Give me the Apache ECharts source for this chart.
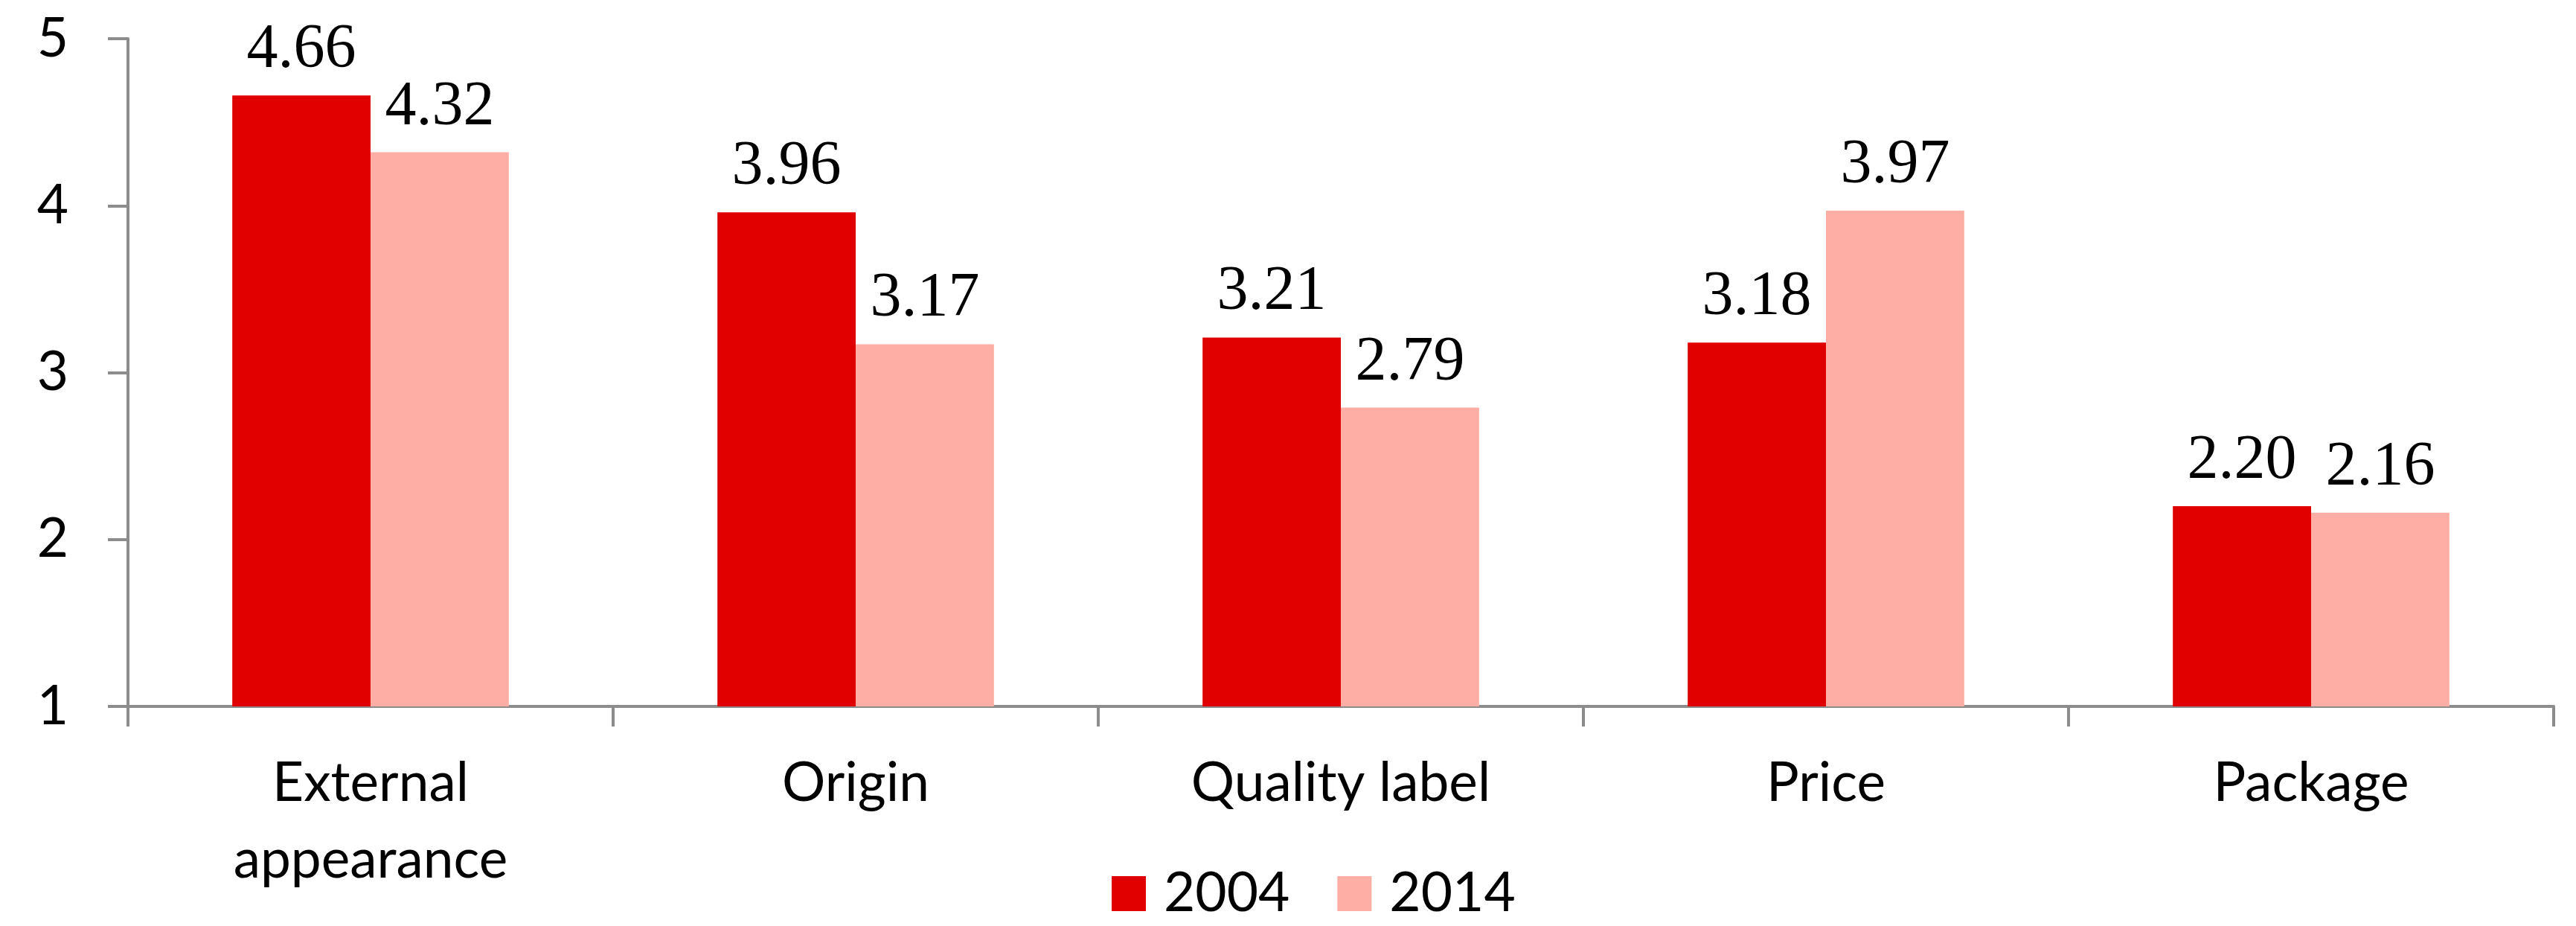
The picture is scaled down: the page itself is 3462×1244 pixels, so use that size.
<!DOCTYPE html>
<html>
<head>
<meta charset="utf-8">
<script src="https://cdn.jsdelivr.net/npm/echarts@6/dist/echarts.min.js"></script>
<style>
html,body{margin:0;padding:0;background:#fff;}
#chart{width:3462px;height:1244px;}
</style>
</head>
<body>
<div id="chart"></div>
<script>
const categories = ['External\nappearance', 'Origin', 'Quality label', 'Price', 'Package'];
const seriesNames = ['2004', '2014'];
const values2004 = [4.66, 3.96, 3.21, 3.18, 2.20];
const values2014 = [4.32, 3.17, 2.79, 3.97, 2.16];
const yTicks = [1, 2, 3, 4, 5];

const colors = ['#e00000', '#ffaea5'];
const chart = echarts.init(document.getElementById('chart'));

const labelStyle = {
  show: true,
  position: 'top',
  distance: 18,
  fontFamily: 'Liberation Serif',
  fontSize: 84,
  color: '#000',
  formatter: p => p.value.toFixed(2)
};

chart.setOption({
  animation: false,
  backgroundColor: '#ffffff',
  grid: { left: 172, right: 30, top: 52, bottom: 295, containLabel: false },
  legend: {
    data: seriesNames,
    left: 1489,
    top: 1159,
    itemWidth: 46,
    itemHeight: 47,
    itemGap: 64,
    icon: 'rect',
    textStyle: { fontFamily: 'Lato', fontSize: 73, color: '#000', padding: [0, 0, 0, 19] }
  },
  xAxis: {
    type: 'category',
    data: categories,
    axisLine: { lineStyle: { color: '#8c8c8c', width: 4 } },
    axisTick: { show: true, length: 27, lineStyle: { color: '#8c8c8c', width: 4 } },
    axisLabel: {
      interval: 0,
      margin: 52,
      fontFamily: 'Lato',
      fontSize: 73,
      lineHeight: 103,
      color: '#000',
      verticalAlign: 'top'
    }
  },
  yAxis: {
    type: 'value',
    min: yTicks[0],
    max: yTicks[yTicks.length - 1],
    interval: 1,
    splitLine: { show: false },
    axisLine: { show: true, lineStyle: { color: '#8c8c8c', width: 4 } },
    axisTick: { show: true, length: 27, lineStyle: { color: '#8c8c8c', width: 4 } },
    axisLabel: { margin: 80, fontFamily: 'Lato', fontSize: 73, color: '#000' }
  },
  series: [
    {
      name: seriesNames[0],
      type: 'bar',
      data: values2004,
      barGap: '0%',
      barCategoryGap: '43%',
      itemStyle: { color: colors[0] },
      label: labelStyle
    },
    {
      name: seriesNames[1],
      type: 'bar',
      data: values2014,
      barGap: '0%',
      barCategoryGap: '43%',
      itemStyle: { color: colors[1] },
      label: labelStyle
    }
  ]
});
</script>
</body>
</html>
